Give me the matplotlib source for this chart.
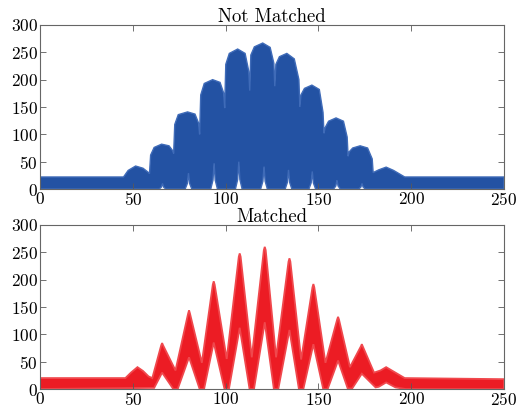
import matplotlib
matplotlib.use("Agg")
import matplotlib.pyplot as plt

plt.rcParams['font.family'] = 'cmr10'
plt.rcParams['mathtext.fontset'] = 'cm'
plt.rcParams['axes.formatter.use_mathtext'] = True

# ---- Not Matched: upper edge of the blue envelope (x, value)
nm_hi_x = [0, 45, 47.5, 51.5, 55.5, 58.5, 59, 59.6, 61.5, 65.5, 69.5, 71.5, 72, 72.6, 74.5, 79.5, 83.5,
           85.5, 86, 86.6, 88.5, 93, 97, 99, 99.5, 100.1, 102, 106.5, 110.5, 112.5, 113, 113.6, 115.5,
           120, 124, 126, 126.5, 127.1, 129, 133, 137, 139.5, 140, 140.6, 142.5, 146.5, 150.5, 152.5,
           153, 153.6, 155.5, 159.5, 163.5, 165.5, 166, 166.6, 168.5, 172.5, 176.5, 179, 179.5, 182.5,
           186.5, 190.5, 196.5, 250]
nm_hi_y = [22, 22, 34, 42, 38, 30, 28, 62, 76, 82, 79, 70, 65, 118, 136, 141, 137,
           120, 100, 172, 193, 200, 195, 175, 148, 228, 248, 256, 248, 215, 180, 245, 260,
           267, 259, 230, 188, 228, 242, 248, 238, 200, 150, 172, 184, 190, 182, 140,
           102, 112, 124, 130, 124, 95, 60, 68, 75, 79, 75, 55, 30, 35,
           40, 34, 22, 22]
# white dips rising from the bottom at each lobe centre
nm_dip_x = [66.0, 80.0, 93.8, 107.1, 120.7, 133.9, 146.7, 160.0, 173.5]
nm_dip_h = [10, 29, 47, 50, 41, 35, 32, 16, 10]

# ---- Matched: upper and lower edges of the red band
m_hi_x = [0, 46, 49, 52.5, 55.5, 58.5, 60.5, 65.3, 65.8, 66.3, 73, 79.8, 80.3, 80.8, 87.2, 93.1, 93.6,
          94.1, 100.6, 107.1, 107.6, 108.1, 114.1, 120.6, 121.1, 121.6, 127.2, 133.9, 134.4, 134.9,
          140.7, 146.8, 147.3, 147.8, 153.8, 160.1, 160.6, 161.1, 167, 172.9, 173.4, 173.9, 180,
          183.5, 186.5, 190.5, 196.5, 250]
m_hi_y = [20, 20, 30, 40, 33, 23, 20, 80, 84, 80, 34, 138, 144, 138, 48, 191, 197,
          191, 55, 242, 248, 242, 58, 254, 260, 254, 58, 233, 239, 233,
          54, 186, 192, 186, 48, 127, 132, 127, 40, 78, 82, 78, 30,
          34, 40, 32, 20, 18]
m_lo_x = [250, 197, 191.5, 186.5, 182.5, 180.8, 173.4, 168.2, 165.8, 160.6, 155.0, 152.6, 147.3, 141.9,
          139.5, 134.4, 128.4, 126.0, 121.1, 115.3, 112.9, 107.6, 101.8, 99.4, 93.6, 88.4, 86.0, 80.3,
          74.2, 71.8, 65.8, 61.5, 59.5, 0]
m_lo_y = [0, 0, 3, 12, 4, 3, 28, 1, 1, 52, 0, 0, 82, 0,
          0, 108, 0, 0, 122, 0, 0, 112, 0, 0, 85, 0, 0, 58,
          0, 0, 30, 2, 2, 0]

BLUE = '#2352a3'
RED = '#ec1c24'
xticks = [0, 50, 100, 150, 200, 250]
yticks = [0, 50, 100, 150, 200, 250, 300]

# lower edge for the blue panel: zero with narrow spikes at the dips
nm_lo_x, nm_lo_y = [250], [0]
for cx, h in zip(nm_dip_x[::-1], nm_dip_h[::-1]):
    nm_lo_x += [cx + 1.8, cx + 0.6, cx, cx - 0.6, cx - 1.8]
    nm_lo_y += [0, 0.35 * h, h, 0.35 * h, 0]
nm_lo_x.append(0)
nm_lo_y.append(0)

fig = plt.figure(figsize=(5.28, 4.07), dpi=100)
ax1 = fig.add_axes([0.0758, 0.5356, 0.8787, 0.403])
ax2 = fig.add_axes([0.0758, 0.0442, 0.8787, 0.403])

ax1.fill(nm_hi_x + nm_lo_x, nm_hi_y + nm_lo_y, fc=BLUE, lw=1.0, ec='#3f6bb8')
ax2.fill(m_hi_x + m_lo_x, m_hi_y + m_lo_y, fc=RED, lw=1.3, ec='#f0484d')

for ax, title in [(ax1, 'Not Matched'), (ax2, 'Matched')]:
    ax.set_xlim(0, 250)
    ax.set_ylim(0, 300)
    ax.set_xticks(xticks)
    ax.set_yticks(yticks)
    ax.tick_params(direction='in', top=True, right=True, length=4, width=0.6,
                   labelsize=12.5, pad=1.5, colors='0.35', labelcolor='black')
    for s in ax.spines.values():
        s.set_color('0.4')
        s.set_linewidth(0.8)
        s.set_zorder(3)
    ax.set_title(title, fontsize=13.5, pad=2)

fig.savefig('out.png', dpi=100)
